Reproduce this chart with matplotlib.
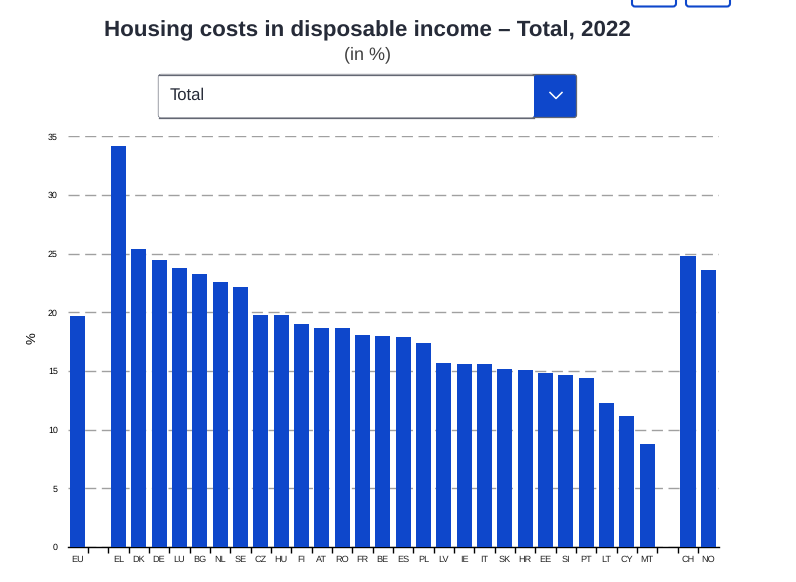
import matplotlib
matplotlib.use("Agg")
import matplotlib.pyplot as plt
from matplotlib.patches import FancyBboxPatch

plt.rcParams['font.family'] = ['Liberation Sans', 'DejaVu Sans']
plt.rcParams['text.hinting'] = 'no_hinting'

W, H = 796, 582

countries = ["EU", "", "EL", "DK", "DE", "LU", "BG", "NL", "SE", "CZ", "HU", "FI", "AT", "RO", "FR", "BE",
             "ES", "PL", "LV", "IE", "IT", "SK", "HR", "EE", "SI", "PT", "LT", "CY", "MT", "", "CH", "NO"]
values = [19.7, 0, 34.2, 25.4, 24.5, 23.8, 23.3, 22.6, 22.2, 19.8, 19.8, 19.0, 18.7, 18.7, 18.1, 18.0,
          17.9, 17.4, 15.7, 15.6, 15.6, 15.2, 15.1, 14.8, 14.7, 14.4, 12.3, 11.2, 8.8, 0, 24.8, 23.6]
y_ticks = [0, 5, 10, 15, 20, 25, 30, 35]

BLUE = "#0e47cb"

fig = plt.figure(figsize=(W / 100, H / 100), dpi=100)

# overlay in pixel coords for the page bits around the chart
page = fig.add_axes([0, 0, 1, 1])
page.set_xlim(0, W)
page.set_ylim(H, 0)
page.axis("off")

page.text(367.5, 31, "Housing costs in disposable income – Total, 2022", ha="center", va="center",
          fontsize=16.1, fontweight="bold", color="#262b38")
page.text(368, 55, "(in %)", ha="center", va="center", fontsize=13, color="#404040")

# cut-off buttons at the top
for bx in [632, 686]:
    page.add_patch(FancyBboxPatch((bx, -10), 44, 16.5, boxstyle="round,pad=0,rounding_size=3",
                                  fc="white", ec=BLUE, lw=1.5))

# dropdown: blue box first, white part on top keeps the right corners round
page.add_patch(FancyBboxPatch((158.5, 74.5), 418, 43, boxstyle="round,pad=0,rounding_size=2.5",
                              fc=BLUE, ec="#636773", lw=0.9))
page.add_patch(FancyBboxPatch((158.5, 74.5), 375.5, 43, boxstyle="round,pad=0,rounding_size=2.5",
                              fc="white", ec="none"))
page.plot([158.5, 534], [74.5, 74.5], color="#636773", lw=0.9)
page.plot([158.5, 534], [117.5, 117.5], color="#636773", lw=0.9)
page.plot([550, 556, 562], [92.5, 98.5, 92.5], color="white", lw=1.1)
page.text(170, 95.5, "Total", ha="left", va="center", fontsize=12, color="#262b38")

page.text(32, 338, "%", rotation=90, ha="center", va="center", fontsize=9.5, color="black")

# chart
left, right, top, bottom = 67.5, 718.5, 136.5, 547
ax = fig.add_axes([left / W, 1 - bottom / H, (right - left) / W, (bottom - top) / H])
ax.patch.set_alpha(0)
x = range(len(countries))
ax.bar(x, values, width=0.74, color=BLUE, zorder=3)
ax.set_xlim(-0.5, len(countries) - 0.5)
ax.set_ylim(0, 35)

ax.set_yticks(y_ticks)
ax.set_yticklabels([str(v) for v in y_ticks], fontsize=6.4)
ax.tick_params(axis="y", length=0, pad=7)
ax.yaxis.grid(True, color="#a0a0a0", lw=1, linestyle=(0, (8, 4)), zorder=1)
ax.set_axisbelow(True)

# ticks sit between the bands, labels under the bars
ax.set_xticks([i + 0.5 for i in range(len(countries) - 1)])
ax.set_xticklabels([])
ax.tick_params(axis="x", length=4, width=1, color="black")
for i, name in enumerate(countries):
    ax.annotate(name, (i, 0), xytext=(0, -9), xycoords="data", textcoords="offset points",
                ha="center", va="center", fontsize=6.6, color="#222222", annotation_clip=False)

for side in ["top", "left", "right"]:
    ax.spines[side].set_visible(False)
ax.spines["bottom"].set_linewidth(1)

fig.savefig("out.png", dpi=100)
